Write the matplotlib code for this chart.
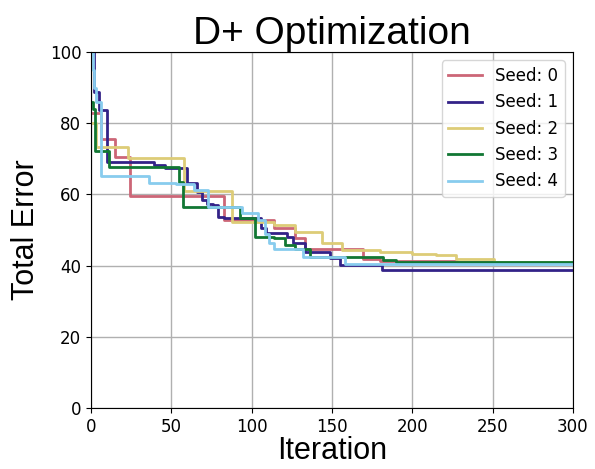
import matplotlib
matplotlib.use("Agg")
import matplotlib.pyplot as plt

# Step change points (iteration, best total error) per seed
seed0_it = [0, 1, 6, 15, 24, 83, 114, 127, 133, 169, 180, 228, 300]
seed0_val = [83, 83, 75.5, 70.5, 59.6, 52.8, 50.5, 47.7, 44.6, 42.0, 41.4, 41.0, 41.0]

seed1_it = [0, 2, 5, 10, 39, 46, 60, 66, 69, 72, 76, 79, 83, 106, 109, 122, 126, 133, 149, 155, 181, 300]
seed1_val = [100, 88.7, 83.7, 69.0, 68.3, 67.5, 63.3, 60.8, 58.4, 57.3, 57.0, 53.7, 53.3, 50.5, 49.1, 48.1, 46.3, 43.9, 42.1, 40.2, 38.8, 38.8]

seed2_it = [0, 3, 23, 58, 88, 114, 127, 144, 156, 180, 200, 215, 227, 251, 300]
seed2_val = [80, 73.3, 70.1, 61.0, 52.3, 51.3, 49.4, 46.5, 44.4, 43.9, 43.4, 43.0, 41.8, 41.0, 41.0]

seed3_it = [0, 1, 2.5, 11, 55, 57, 93, 102, 114, 121, 127, 136, 182, 190, 251, 300]
seed3_val = [86, 84, 72.2, 67.8, 63.6, 56.6, 53.5, 48.1, 47.7, 45.8, 44.8, 42.5, 41.6, 41.1, 40.9, 40.9]

seed4_it = [0, 1, 2, 3, 6, 36, 53, 64, 73, 94, 104, 108, 111, 114, 132, 158, 300]
seed4_val = [100, 95, 90, 86, 65.2, 63.3, 62.8, 61.2, 56.6, 54.7, 52.8, 49.0, 46.3, 44.8, 42.4, 40.6, 40.6]

labels = ["Seed: 0", "Seed: 1", "Seed: 2", "Seed: 3", "Seed: 4"]
colors = ["#CC6677", "#332288", "#DDCC77", "#117733", "#88CCEE"]

series = [(seed0_it, seed0_val), (seed1_it, seed1_val), (seed2_it, seed2_val),
          (seed3_it, seed3_val), (seed4_it, seed4_val)]

fig = plt.figure(figsize=(5.95, 4.69), dpi=100)
ax = fig.add_axes([0.153, 0.130, 0.810, 0.759])

for (xs, ys), lab, c in zip(series, labels, colors):
    ax.plot(xs, ys, drawstyle="steps-post", color=c, lw=2, label=lab)

ax.set_xlim(0, 300)
ax.set_ylim(0, 100)
ax.set_xticks([0, 50, 100, 150, 200, 250, 300])
ax.set_yticks([0, 20, 40, 60, 80, 100])
ax.tick_params(labelsize=12)
ax.grid(True, color="#b0b0b0", lw=1)
ax.set_axisbelow(True)

ax.set_title("D+ Optimization", fontsize=28, family="Liberation Sans", pad=6)
ax.set_xlabel("Iteration", fontsize=22, family="Liberation Sans", labelpad=0)
ax.set_ylabel("Total Error", fontsize=22, family="Liberation Sans", labelpad=6)

ax.legend(loc="upper right", fontsize=12)

fig.savefig("out.png", dpi=100)
